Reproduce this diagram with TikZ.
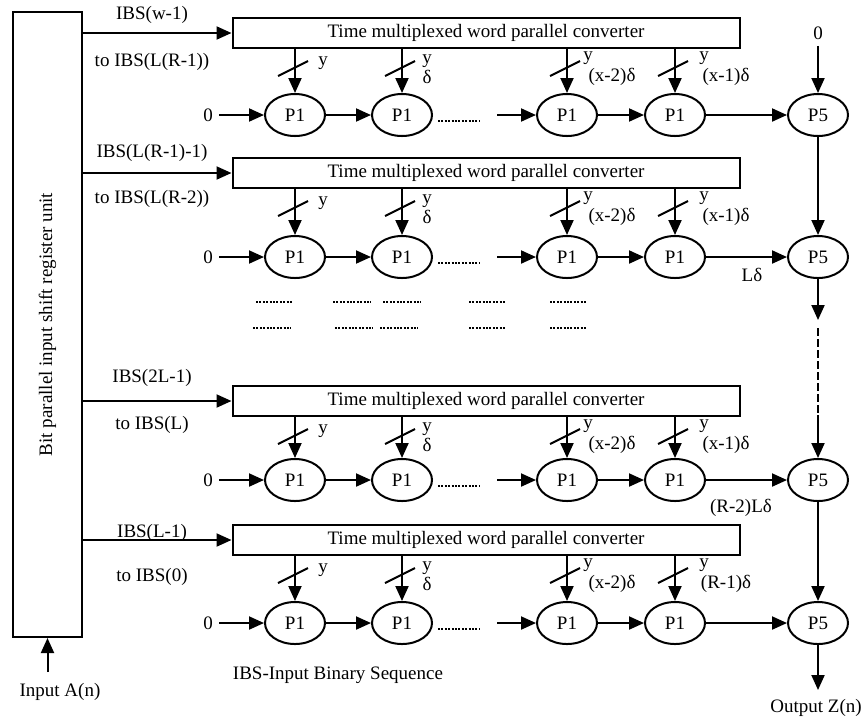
\documentclass[tikz,border=0pt]{standalone}
\usepackage{fontspec}
\setmainfont{Liberation Serif}
\usetikzlibrary{positioning, calc, arrows.meta, shapes.geometric}
\tikzset{
    pnode/.style={ellipse, draw, line width=1pt, minimum width=30pt, minimum height=21pt, inner sep=0pt},
    convnode/.style={rectangle, draw, line width=1pt, minimum width=253.5pt, minimum height=15pt, inner sep=0pt},
    regnode/.style={rectangle, draw, line width=1pt, minimum width=34.5pt, minimum height=312.5pt, inner sep=0pt},
    lbl/.style={inner sep=0pt},
    zeronode/.style={inner sep=3pt},
    arrow/.style={-{Triangle[length=7.5pt, width=6.5pt]}, line width=1pt},
    slashline/.style={line width=1pt},
    dotline/.style={line width=1pt, dash pattern=on 1pt off 0.7pt},
}

\begin{document}
\begin{tikzpicture}[x=0.5pt, y=-0.5pt, every node/.append style={font=\fontsize{9.5}{11}\selectfont}]
    \useasboundingbox (0,0) rectangle (865,719);

    % Register d'entree
    \node[regnode] (sr) at (47.5,324.5) {};
    \node[lbl, rotate=90] (srtext) at (sr.center) {Bit parallel input shift register unit};
    \coordinate (inA) at (47.5,672);
    \draw[arrow] (inA) -- (sr.south);
    \node[lbl] (inAtext) at (60,692) {Input A(n)};

    % Les quatre rangees
    \foreach \r/\cy/\py/\ya/\yb/\ta/\tb/\dl in {
        1/33/115/15/62/{IBS(w-1)}/{to IBS(L(R-1))}/{(x-1)δ},
        2/173/257/153/199/{IBS(L(R-1)-1)}/{to IBS(L(R-2))}/{(x-1)δ},
        3/401/480/378/425/{IBS(2L-1)}/{to IBS(L)}/{(x-1)δ},
        4/540/623/533/577/{IBS(L-1)}/{to IBS(0)}/{(R-1)δ}}{
        \node[convnode] (cv\r) at (486,\cy) {Time multiplexed word parallel converter};
        \draw[arrow] (sr.east |- cv\r.west) -- (cv\r.west);
        \node[lbl] (ta\r) at (152,\ya) {\ta};
        \node[lbl] (tb\r) at (152,\yb) {\tb};

        % Chaine P1 -> P5
        \node[pnode] (pa\r) at (295,\py) {P1};
        \node[pnode] (pb\r) at (402,\py) {P1};
        \node[pnode] (pc\r) at (567,\py) {P1};
        \node[pnode] (pd\r) at (675,\py) {P1};
        \node[pnode] (pf\r) at (818,\py) {P5};
        \node[zeronode] (zero\r) at (208,\py) {0};
        \coordinate (dotA\r) at (438,\py+6);
        \coordinate (dotB\r) at (480,\py+6);
        \coordinate (gap\r) at (497,\py);
        \draw[arrow] (zero\r) -- (pa\r);
        \draw[arrow] (pa\r) -- (pb\r);
        \draw[dotline] (dotA\r) -- (dotB\r);
        \draw[arrow] (gap\r) -- (pc\r);
        \draw[arrow] (pc\r) -- (pd\r);
        \draw[arrow] (pd\r) -- (pf\r);

        % Bus de y bits vers chaque P1
        \foreach \c in {a,b,c,d}{
            \draw[arrow] (p\c\r |- cv\r.south) -- (p\c\r);
            \draw[slashline] ($(p\c\r |- cv\r.south)+(-17,27)$) -- +(30,-15);
        }
        \node[lbl] at ($(pa\r |- cv\r.south)+(28,14)$) {y};
        \node[lbl] at ($(pb\r |- cv\r.south)+(25,12)$) {y};
        \node[lbl] at ($(pb\r |- cv\r.south)+(25,28)$) {δ};
        \node[lbl] at ($(pc\r |- cv\r.south)+(21,9)$) {y};
        \node[lbl] at ($(pc\r |- cv\r.south)+(45,28)$) {(x-2)δ};
        \node[lbl] at ($(pd\r |- cv\r.south)+(29,9)$) {y};
        \node[lbl] at ($(pd\r |- cv\r.south)+(51,28)$) {\dl};
    }

    % Retards entre rangees
    \node[lbl] (dlL) at (752,275) {Lδ};
    \node[lbl] (dlRL) at (741,508) {(R-2)Lδ};

    % Colonne des P5
    \node[zeronode] (zeroT) at (818,33) {0};
    \coordinate (vA) at (818,320);
    \coordinate (vB) at (818,328);
    \coordinate (vC) at (818,415);
    \coordinate (outZ) at (818,690);
    \draw[arrow] (zeroT) -- (pf1);
    \draw[arrow] (pf1) -- (pf2);
    \draw[arrow] (pf2) -- (vA);
    \draw[line width=1pt, dash pattern=on 4pt off 1.5pt] (vB) -- (vC);
    \draw[arrow] (vC) -- (pf3);
    \draw[arrow] (pf3) -- (pf4);
    \draw[arrow] (pf4) -- (outZ);
    \node[lbl] (outZtext) at (816,708) {Output Z(n)};

    % Pointilles entre les rangees 2 et 3
    \foreach \xa/\xb/\yy in {256/293/302, 333/371/302, 383/421/302, 469/505/302, 550/587/302,
                             253/291/328, 335/373/328, 380/418/328, 469/505/328, 550/587/328}
        \draw[dotline] (\xa,\yy) -- (\xb,\yy);

    \node[lbl] (legend) at (338,675) {IBS-Input Binary Sequence};
\end{tikzpicture}
\end{document}
